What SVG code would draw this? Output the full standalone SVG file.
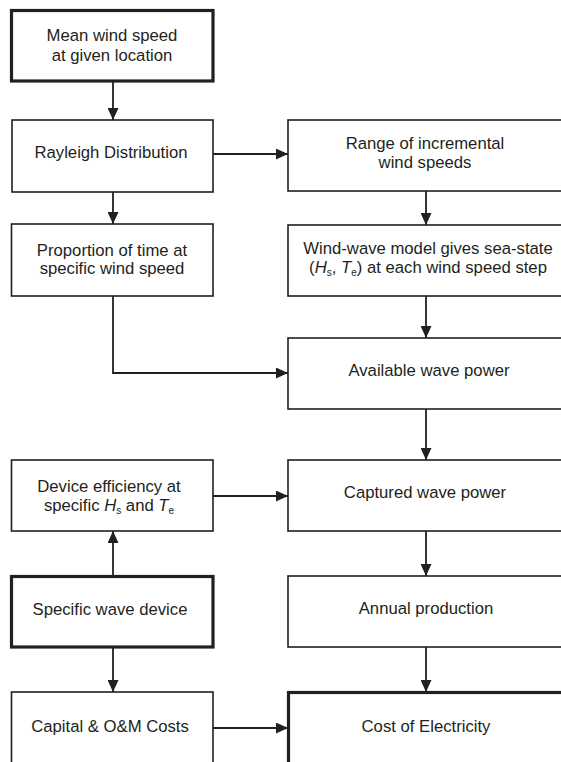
<svg xmlns="http://www.w3.org/2000/svg" width="561" height="762" viewBox="0 0 561 762">
<style>
.box{fill:#fff;stroke:#231f20;stroke-width:1.6}
.thick{stroke-width:3.2}
text{font-family:"Liberation Sans",Arial,sans-serif;font-size:16.7px;fill:#231f20;text-anchor:middle}
.it{font-style:italic}
.sub{font-size:10px}
.c{fill:none;stroke:#231f20;stroke-width:1.8;marker-end:url(#ah)}
</style>
<defs>
<marker id="ah" markerUnits="userSpaceOnUse" markerWidth="12" markerHeight="11" refX="12" refY="5.5" orient="auto">
<path d="M0,0 L12,5.5 L0,11 z" fill="#231f20"/>
</marker>
</defs>
<rect width="561" height="762" fill="#fff"/>
<g id="connectors">
<line class="c" x1="113" y1="81" x2="113" y2="120"/>
<line class="c" x1="213" y1="154" x2="288" y2="154"/>
<line class="c" x1="113" y1="192" x2="113" y2="224"/>
<line class="c" x1="426" y1="191" x2="426" y2="225"/>
<path class="c" d="M113,296 L113,373 L288,373"/>
<line class="c" x1="426" y1="296" x2="426" y2="338"/>
<line class="c" x1="426" y1="409" x2="426" y2="460"/>
<line class="c" x1="213" y1="496" x2="288" y2="496"/>
<line class="c" x1="113" y1="576" x2="113" y2="531"/>
<line class="c" x1="426" y1="531" x2="426" y2="576"/>
<line class="c" x1="113" y1="647" x2="113" y2="692"/>
<line class="c" x1="426" y1="647" x2="426" y2="692"/>
<line class="c" x1="213" y1="728" x2="288" y2="728"/>
</g>
<g id="mean">
<rect class="box thick" x="11.5" y="10.5" width="201.5" height="70.5"/>
<text x="112" y="41">Mean wind speed</text>
<text x="112" y="61">at given location</text>
</g>
<g id="rayleigh">
<rect class="box" x="12" y="120" width="201" height="72"/>
<text x="111" y="158">Rayleigh Distribution</text>
</g>
<g id="range">
<rect class="box" x="288" y="120" width="280" height="71"/>
<text x="425" y="149">Range of incremental</text>
<text x="425" y="168">wind speeds</text>
</g>
<g id="proportion">
<rect class="box" x="11.5" y="224" width="201.5" height="72"/>
<text x="112" y="256">Proportion of time at</text>
<text x="112" y="274">specific wind speed</text>
</g>
<g id="windwave">
<rect class="box" x="288" y="225" width="280" height="71"/>
<text x="428" y="254">Wind-wave model gives sea-state</text>
<text x="428" y="273">(<tspan class="it">H</tspan><tspan class="sub" dy="3">s</tspan><tspan dy="-3">, </tspan><tspan class="it">T</tspan><tspan class="sub" dy="3">e</tspan><tspan dy="-3">) at each wind speed step</tspan></text>
</g>
<g id="available">
<rect class="box" x="288" y="338" width="280" height="71"/>
<text x="429" y="376">Available wave power</text>
</g>
<g id="device">
<rect class="box" x="11.5" y="460" width="201.5" height="71"/>
<text x="109" y="492">Device efficiency at</text>
<text x="109" y="511">specific <tspan class="it">H</tspan><tspan class="sub" dy="3">s</tspan><tspan dy="-3"> and </tspan><tspan class="it">T</tspan><tspan class="sub" dy="3">e</tspan></text>
</g>
<g id="captured">
<rect class="box" x="288" y="460" width="280" height="71"/>
<text x="425" y="498">Captured wave power</text>
</g>
<g id="specific">
<rect class="box thick" x="11.5" y="576.5" width="201.5" height="70.5"/>
<text x="110" y="615">Specific wave device</text>
</g>
<g id="annual">
<rect class="box" x="288" y="576" width="280" height="71"/>
<text x="426" y="614">Annual production</text>
</g>
<g id="capital">
<rect class="box" x="11.5" y="692" width="201.5" height="80"/>
<text x="110" y="732">Capital &amp; O&amp;M Costs</text>
</g>
<g id="cost">
<rect class="box thick" x="288.5" y="692.5" width="280" height="80"/>
<text x="426" y="732">Cost of Electricity</text>
</g>
</svg>
